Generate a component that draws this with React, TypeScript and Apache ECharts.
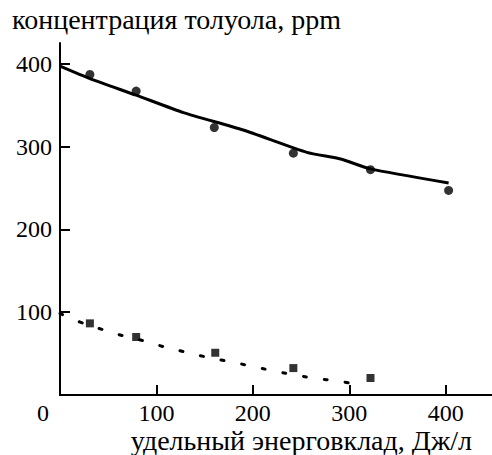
import React, { useEffect, useRef } from "react";
import * as echarts from "echarts";

const titleText = "концентрация толуола, ppm";
const xAxisName = "удельный энерговклад, Дж/л";
const xTicks = [0, 100, 200, 300, 400];
const yTicks = [0, 100, 200, 300, 400];

// measured toluene concentration (circles)
const circleX = [31, 79, 160, 242, 322, 403];
const circleY = [387, 367, 323, 292, 272, 247];
// fitted solid curve
const solidX = [0, 31, 79, 128, 190, 256, 291, 322, 403];
const solidY = [397, 382, 362, 341, 320, 293, 285, 273, 256];
// squares
const squareX = [31, 79, 161, 242, 322];
const squareY = [86.5, 70, 51, 32.5, 20.5];
// dotted curve
const dotX = [0, 21, 44, 67, 88, 110, 133, 155, 177, 200, 222, 243, 265, 288, 310];
const dotY = [98.5, 88, 79, 71, 65, 57.5, 51, 45, 40, 34.5, 29, 24.5, 20, 17, 12];

const zip = (a: number[], b: number[]) => a.map((v, i) => [v, b[i]]);

export default function App() {
  const ref = useRef<HTMLDivElement>(null);
  useEffect(() => {
    if (!ref.current) return;
    const chart = echarts.init(ref.current, null, { renderer: "svg" });
    const font = "Liberation Serif";
    chart.setOption({
      animation: false,
      backgroundColor: "#ffffff",
      textStyle: { fontFamily: font, color: "#000" },
      grid: { left: 60, top: 43, width: 432, height: 352, containLabel: false },
      xAxis: {
        type: "value",
        min: 0,
        max: 448,
        interval: 100,
        splitLine: { show: false },
        axisLine: { lineStyle: { color: "#000", width: 2 } },
        axisTick: { inside: true, length: 10, lineStyle: { color: "#000", width: 2 } },
        axisLabel: {
          color: "#000",
          fontFamily: font,
          fontSize: 24,
          margin: 6,
          showMinLabel: false,
          showMaxLabel: false,
          formatter: (v: number) => (xTicks.includes(v) && v !== 0 ? String(v) : ""),
        },
      },
      yAxis: {
        type: "value",
        min: 0,
        max: 425,
        interval: 100,
        splitLine: { show: false },
        axisLine: { lineStyle: { color: "#000", width: 2 } },
        axisTick: { inside: true, length: 10, lineStyle: { color: "#000", width: 2 } },
        axisLabel: {
          color: "#000",
          fontFamily: font,
          fontSize: 24,
          margin: 8,
          showMinLabel: false,
          showMaxLabel: false,
          formatter: (v: number) => (yTicks.includes(v) && v !== 0 ? String(v) : ""),
        },
      },
      graphic: [
        {
          type: "text",
          x: 12,
          y: 19,
          style: {
            text: titleText,
            fontFamily: font,
            fontSize: 28,
            fill: "#000",
            verticalAlign: "middle",
          },
        },
        {
          type: "text",
          x: 472,
          y: 440,
          style: {
            text: xAxisName,
            fontFamily: font,
            fontSize: 28,
            fill: "#000",
            align: "right",
            verticalAlign: "middle",
          },
        },
        {
          type: "text",
          x: 43,
          y: 413,
          style: {
            text: "0",
            fontFamily: font,
            fontSize: 24,
            fill: "#000",
            align: "center",
            verticalAlign: "middle",
          },
        },
      ],
      series: [
        {
          type: "line",
          data: zip(solidX, solidY),
          showSymbol: false,
          smooth: 0.2,
          lineStyle: { color: "#000", width: 3 },
          z: 2,
        },
        {
          type: "scatter",
          data: zip(circleX, circleY),
          symbol: "circle",
          symbolSize: 9,
          itemStyle: { color: "#000" },
          z: 3,
        },
        {
          type: "line",
          data: zip(dotX, dotY),
          showSymbol: false,
          smooth: true,
          lineStyle: { color: "#000", width: 3, type: [3, 18], cap: "round" },
          z: 2,
        },
        {
          type: "scatter",
          data: zip(squareX, squareY),
          symbol: "rect",
          symbolSize: 8,
          itemStyle: { color: "#000" },
          z: 3,
        },
      ],
    });
    return () => chart.dispose();
  }, []);
  return (
    <div
      ref={ref}
      style={{ position: "fixed", left: 0, top: 0, width: 492, height: 455 }}
    />
  );
}
